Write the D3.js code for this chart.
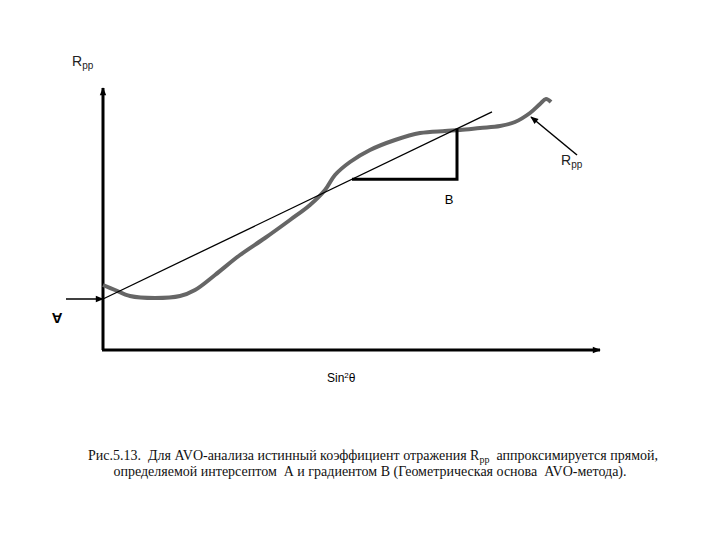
<!DOCTYPE html>
<html><head><meta charset="utf-8">
<script src="https://cdn.jsdelivr.net/npm/d3@7"></script>
<style>body{margin:0;background:#fff} text{white-space:pre}</style>
</head><body>
<svg id="chart" width="720" height="540"></svg>
<script>
// Rpp curve (x: sin²θ units, y: Rpp units)
const curveX = [0,12,27,52,77,92,112,137,162,187,207,222,232,247,267,292,317,342,357,377,397,412,427,437,443,448];
const curveY = [65,60,54,52,54,60,75,95,112,130,145,160,175,188,200,210,217,219,220,222,224,228,237,246,251,248];
// AVO line: intercept A and gradient B
const intercept = 51;
const gradient = 0.481;
const lineEnd = 389;

const svg = d3.select("#chart");
const x = d3.scaleLinear().domain([0, 497]).range([103, 600]);
const y = d3.scaleLinear().domain([0, 260]).range([350, 90]);

svg.append("defs").append("marker")
  .attr("id", "arr").attr("viewBox", "0 0 10 10").attr("refX", 9).attr("refY", 5)
  .attr("markerUnits", "userSpaceOnUse")
  .attr("markerWidth", 9).attr("markerHeight", 8).attr("orient", "auto-start-reverse")
  .append("path").attr("d", "M0,1L10,5L0,9z").attr("fill", "#000");

// axes
svg.append("line").attr("x1", x(0)).attr("y1", y(0)).attr("x2", x(0)).attr("y2", y(262))
  .attr("stroke", "#000").attr("stroke-width", 3).attr("marker-end", "url(#arr)");
svg.append("line").attr("x1", x(0) - 1).attr("y1", y(0)).attr("x2", x(497)).attr("y2", y(0))
  .attr("stroke", "#000").attr("stroke-width", 3).attr("marker-end", "url(#arr)");

// curve
svg.append("path")
  .datum(curveX.map((d, i) => [d, curveY[i]]))
  .attr("d", d3.line().x(d => x(d[0])).y(d => y(d[1])).curve(d3.curveCatmullRom))
  .attr("fill", "none").attr("stroke", "#666").attr("stroke-width", 4);

// fitted line
svg.append("line").attr("x1", x(0)).attr("y1", y(intercept))
  .attr("x2", x(lineEnd)).attr("y2", y(intercept + gradient * lineEnd))
  .attr("stroke", "#000").attr("stroke-width", 1.3);

// gradient triangle
const tx0 = 249, tx1 = 354;
svg.append("path")
  .attr("d", `M${x(tx0)},${y(intercept + gradient * tx0)}H${x(tx1)}V${y(intercept + gradient * tx1)}`)
  .attr("fill", "none").attr("stroke", "#000").attr("stroke-width", 3);

// intercept arrow
svg.append("line").attr("x1", 66).attr("y1", y(intercept)).attr("x2", x(0)).attr("y2", y(intercept))
  .attr("stroke", "#000").attr("stroke-width", 1.5).attr("marker-end", "url(#arr)");

// Rpp pointer
svg.append("line").attr("x1", 577).attr("y1", 155).attr("x2", x(428)).attr("y2", y(233))
  .attr("stroke", "#000").attr("stroke-width", 1.5).attr("marker-end", "url(#arr)");

const f = "Arial, 'Liberation Sans', sans-serif";
function rpp(px, py) {
  const t = svg.append("text").attr("x", px).attr("y", py).attr("font-family", f).attr("font-size", 14).attr("fill", "#222");
  t.append("tspan").text("R");
  t.append("tspan").attr("font-size", 10).attr("dy", 3).text("pp");
}
rpp(72, 66);
rpp(561, 165);
svg.append("text").attr("x", 449).attr("y", 204).attr("text-anchor", "middle").attr("font-family", f).attr("font-size", 13).text("B");
svg.append("text").attr("transform", "translate(57,318) rotate(180)").attr("text-anchor", "middle")
  .attr("font-family", f).attr("font-size", 15).attr("font-weight", "bold").attr("dy", "0.35em").text("A");
const s = svg.append("text").attr("x", 327).attr("y", 382).attr("font-family", f).attr("font-size", 12);
s.append("tspan").text("Sin");
s.append("tspan").attr("font-size", 8).attr("dy", -4).text("2");
s.append("tspan").attr("dy", 4).text("θ");

// caption
const cap = svg.append("text").attr("font-family", "'Liberation Serif', 'Times New Roman', serif").attr("font-size", 14).attr("fill", "#111");
const l1 = cap.append("tspan").attr("x", 88).attr("y", 460);
l1.append("tspan").text("Рис.5.13.  Для AVO-анализа истинный коэффициент отражения R");
l1.append("tspan").attr("font-size", 10).attr("dy", 3).text("pp");
l1.append("tspan").attr("dy", -3).text("  аппроксимируется прямой,");
cap.append("tspan").attr("x", 370).attr("y", 476).attr("text-anchor", "middle")
  .text("определяемой интерсептом  А и градиентом В (Геометрическая основа  AVO-метода).");
</script>
</body></html>
